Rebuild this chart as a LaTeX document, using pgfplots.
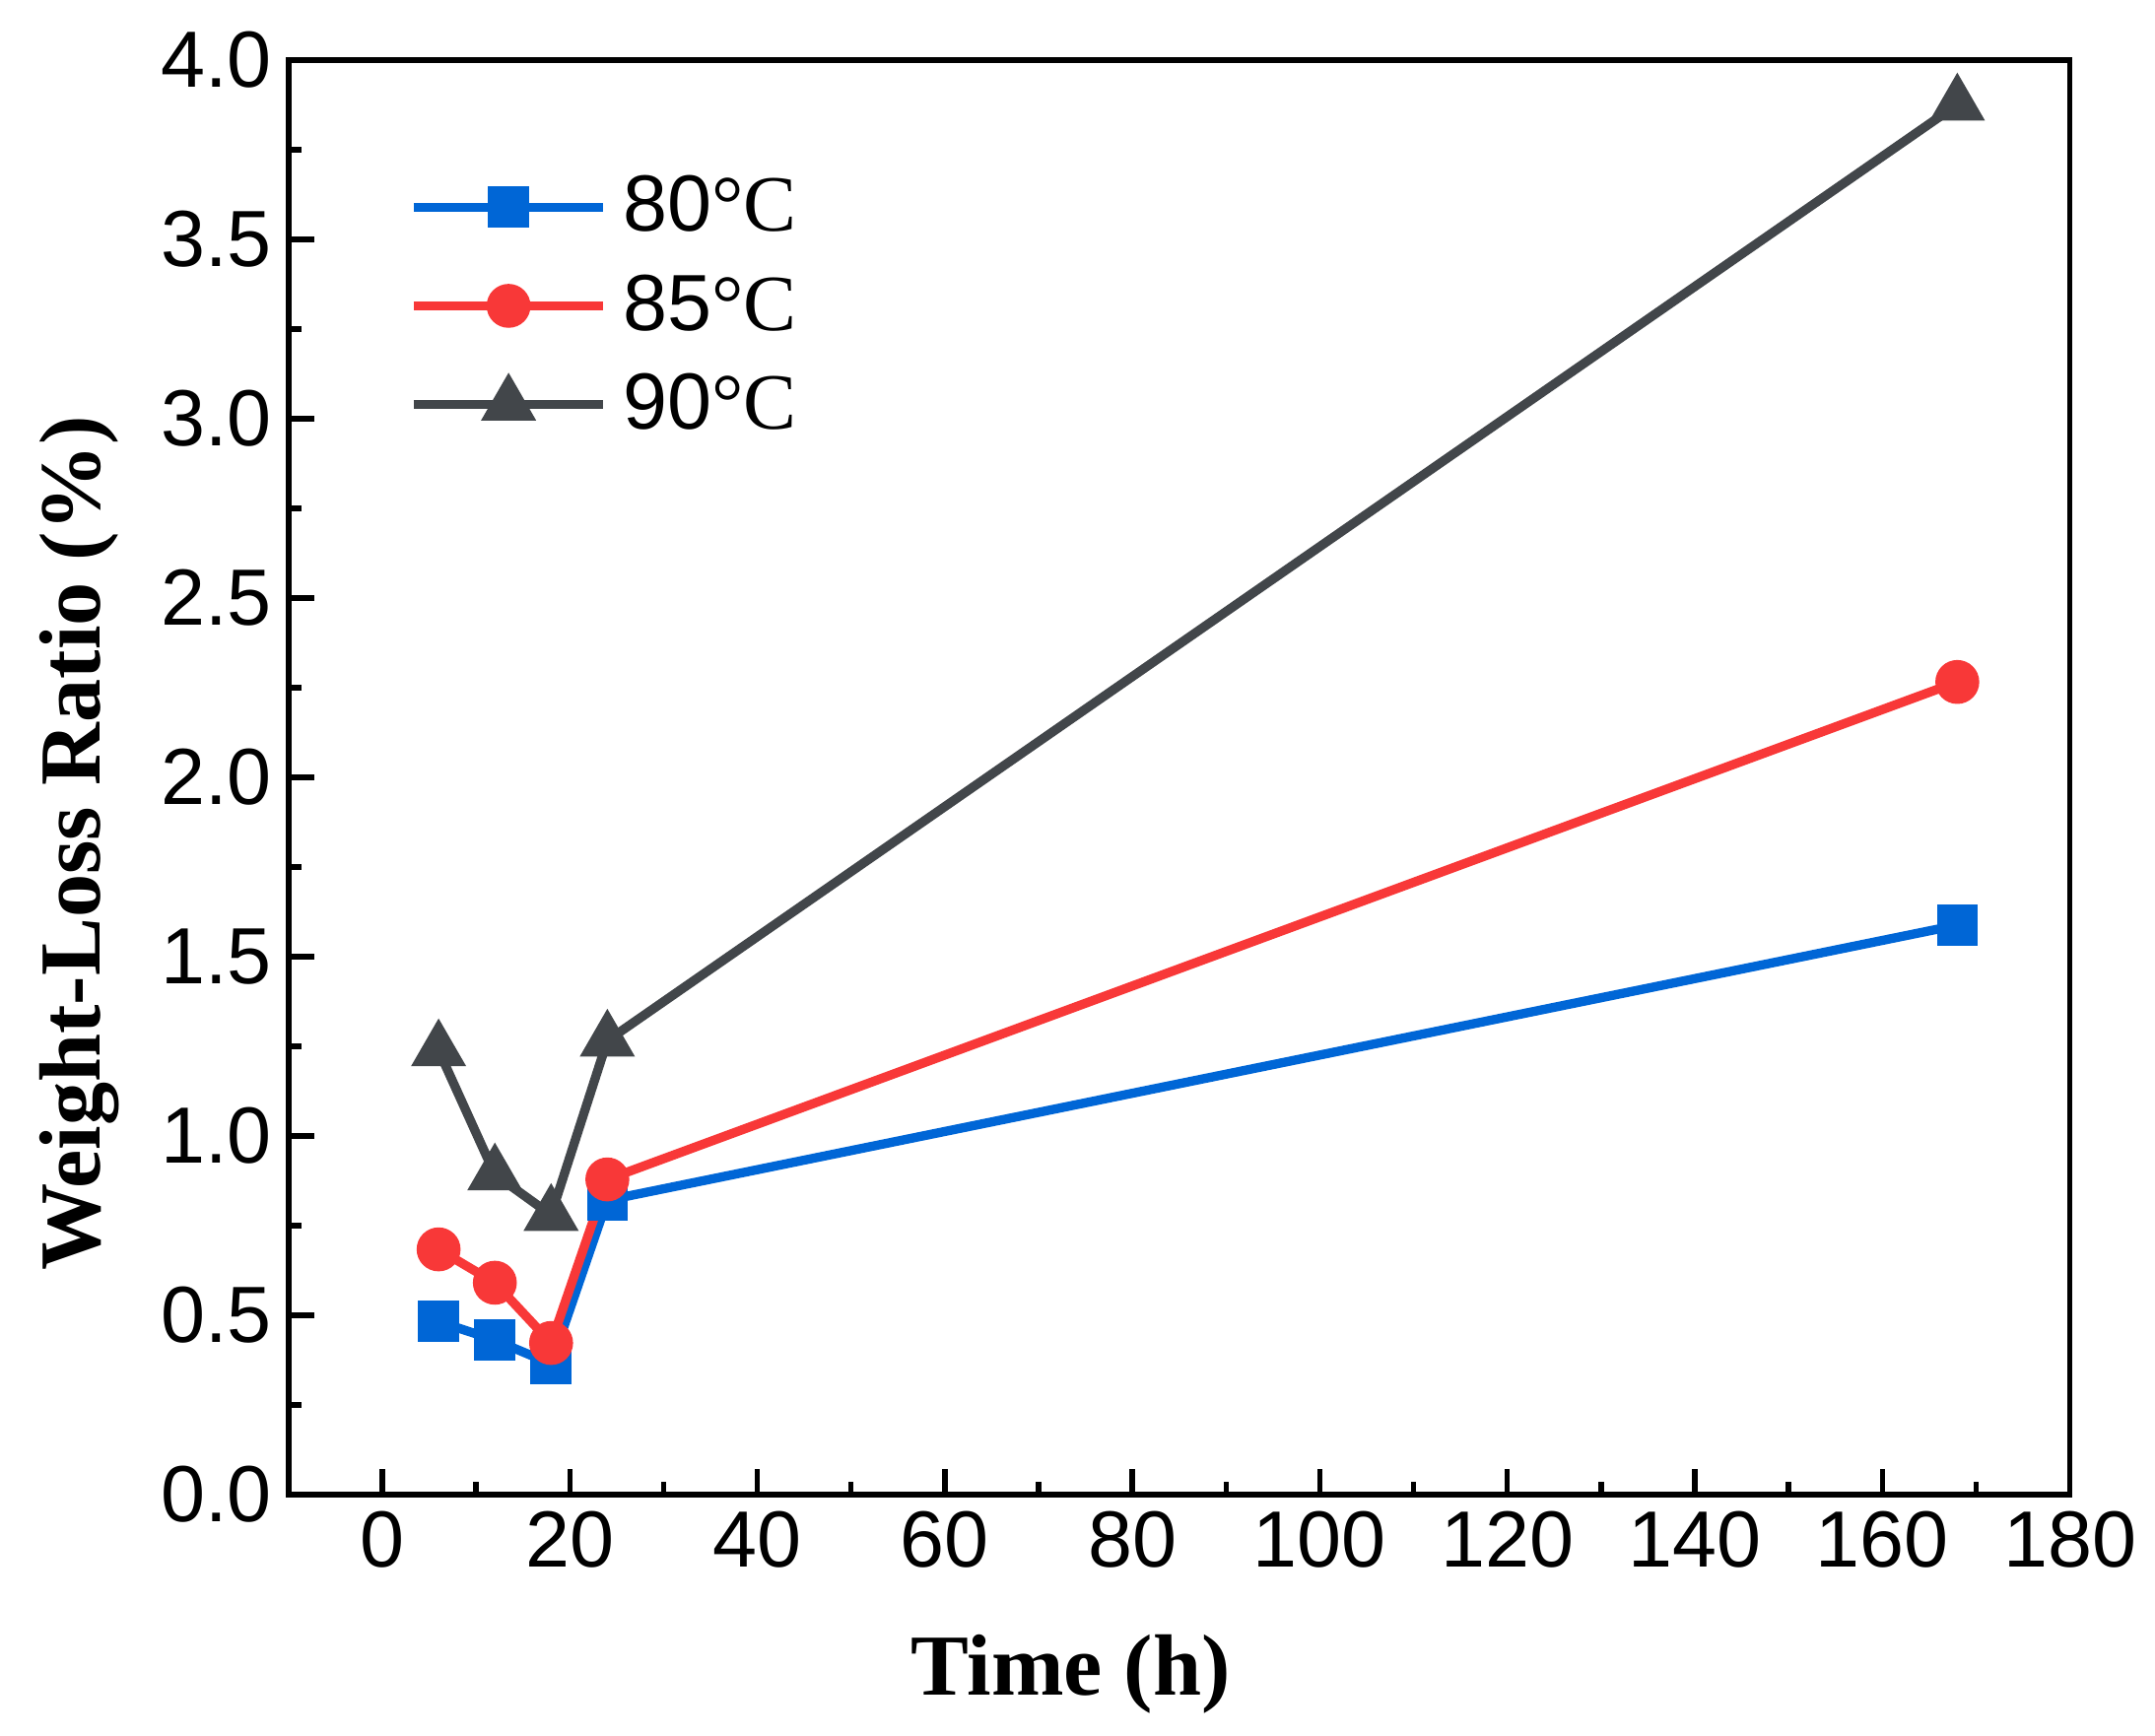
\documentclass[border=0pt]{standalone}
\usepackage{fontspec}
\setmainfont{Liberation Serif}
\setsansfont{Liberation Sans}
\usepackage{pgfplots}
\pgfplotsset{compat=1.18}
\definecolor{cblue}{RGB}{0,102,214}
\definecolor{cred}{RGB}{248,56,56}
\definecolor{cgray}{RGB}{66,70,74}
\begin{document}
\begin{tikzpicture}
\begin{axis}[
  scale only axis,
  width=12.96cm, height=10.44cm,
  xmin=-10, xmax=180, ymin=0, ymax=4,
  xtick={0,20,...,180},
  ytick={0,0.5,...,4.0},
  minor x tick num=1,
  minor y tick num=1,
  tick pos=left,
  tick align=inside,
  major tick length=0.19cm,
  minor tick length=0.095cm,
  every tick/.style={black, line width=1.1pt},
  axis line style={black, line width=1.2pt},
  /pgf/number format/assume math mode=true,
  yticklabel style={/pgf/number format/fixed, /pgf/number format/fixed zerofill, /pgf/number format/precision=1},
  ticklabel style={font=\sffamily\fontsize{16.5}{19}\selectfont},
  xlabel={Time (h)},
  ylabel={Weight-Loss Ratio (\%)},
  every axis x label/.style={at={(axis description cs:0.439,-0.1395)}, anchor=base, font=\bfseries\fontsize{18}{21}\selectfont},
  every axis y label/.style={at={(axis description cs:-0.1057,0.454)}, rotate=90, anchor=base, font=\bfseries\fontsize{18}{21}\selectfont},
  legend style={draw=none, fill=none, at={(axis description cs:0.059,0.9335)}, anchor=north west,
    font=\fontsize{16.5}{19}\selectfont, row sep=0.12cm, column sep=0.04cm},
  legend cell align=left,
  legend image code/.code={\draw[mark repeat=2,mark phase=2,#1] plot coordinates {(0cm,0cm) (0.69cm,0cm) (1.38cm,0cm)};},
  clip=false,
]
\coordinate (SW) at (rel axis cs:0,0);
\addplot[cblue, line width=1.9pt, mark=square*, mark size=4.1pt, mark options={line width=0.3pt, fill=cblue}] coordinates {
  (6,0.483) (12,0.431) (18,0.365) (24,0.821) (168,1.588)
};
\addlegendentry{{\sffamily 80}°C}
\addplot[cred, line width=1.9pt, mark=*, mark size=4.4pt, mark options={line width=0.3pt, fill=cred}] coordinates {
  (6,0.684) (12,0.591) (18,0.423) (24,0.879) (168,2.266)
};
\addlegendentry{{\sffamily 85}°C}
\addplot[cgray, line width=1.9pt, mark=triangle*, mark size=6.3pt, mark options={line width=0.3pt, fill=cgray}] coordinates {
  (6,1.239) (12,0.893) (18,0.780) (24,1.266) (168,3.876)
};
\addlegendentry{{\sffamily 90}°C}
\end{axis}
\pgfresetboundingbox
\path (SW) ++(-2.10cm,-1.75cm) rectangle ++(15.68cm,12.627cm);
\end{tikzpicture}
\end{document}
